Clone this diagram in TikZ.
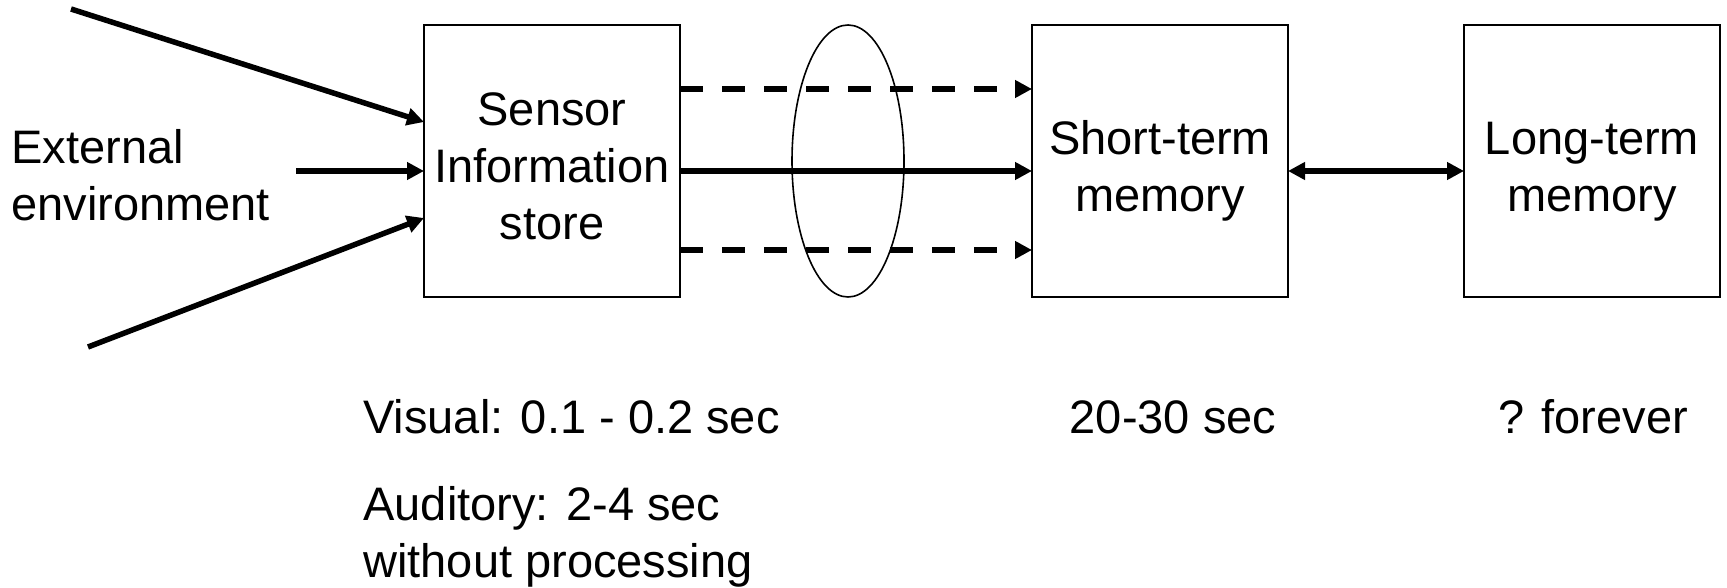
\documentclass[tikz,border=0pt]{standalone}
\usepackage{fontspec}
\setmainfont{Liberation Sans}
\usetikzlibrary{
    arrows.meta,
    positioning,
    shapes.geometric,
}
\newcommand{\StoreTop}{\rule{0pt}{27.5pt}}
\newcommand{\StoreBot}{\rule[-5.5pt]{0pt}{5.5pt}}
\tikzstyle{store}=[draw,rectangle,line width=1.15pt,minimum width=128pt,minimum height=136pt,inner sep=0pt,outer sep=0pt,align=center]
\tikzstyle{flow}=[line width=2.75pt]
\tikzstyle{gaps}=[dash pattern=on 11.5pt off 9.5pt]
\tikzstyle{lens}=[draw,ellipse,line width=0.8pt,minimum width=56pt,minimum height=136pt,inner sep=0pt]
\tikzstyle{note}=[anchor=west,align=left,inner sep=0pt]
\tikzset{
    >={Triangle[length=8.5pt,width=8.5pt]}
}

\begin{document}
\begin{tikzpicture}[x=0.5pt,y=-0.5pt,font=\fontsize{23.5}{28.5}\selectfont]
    \useasboundingbox (0,0) rectangle (1727,588);

    % Stores
    \node[store] (sensor) at (552,161) {\StoreTop Sensor\\Information\\store\StoreBot};
    \node[store,right=176pt of sensor] (stm) {\StoreTop Short-term\\memory\StoreBot};
    \node[store,right=88pt of stm] (ltm) {\StoreTop Long-term\\memory\StoreBot};
    \node[note] (env) at (11,175) {External\\environment};

    % Levels of the arrows
    \coordinate (hi) at (0,122);
    \coordinate (lo) at (0,218);
    \coordinate (mid) at (0,171);
    \coordinate (up) at (0,89);
    \coordinate (dn) at (0,250);
    \coordinate (in1) at (71,9);
    \coordinate (in2) at (296,171);
    \coordinate (in3) at (88,347);

    \draw[flow,->] (in1) -- (sensor.west |- hi);
    \draw[flow,->] (in2) -- (sensor.west |- mid);
    \draw[flow,->] (in3) -- (sensor.west |- lo);

    \draw[flow,gaps,->] (sensor.east |- up) -- (stm.west |- up);
    \draw[flow,->] (sensor.east |- mid) -- (stm.west |- mid);
    \draw[flow,gaps,->] (sensor.east |- dn) -- (stm.west |- dn);
    \draw[flow,<->] (stm.east |- mid) -- (ltm.west |- mid);

    \node[lens] (filter) at (848,161) {};

    % Durations
    \node[note] (visual) at (363,417) {Visual: 0.1 - 0.2 sec};
    \node[note] (auditory) at (363,537) {Auditory: 2-4 sec\\without processing};
    \node (stmtime) at (1173,417) {20-30 sec};
    \node (ltmtime) at (1593,417) {? forever};
\end{tikzpicture}
\end{document}
